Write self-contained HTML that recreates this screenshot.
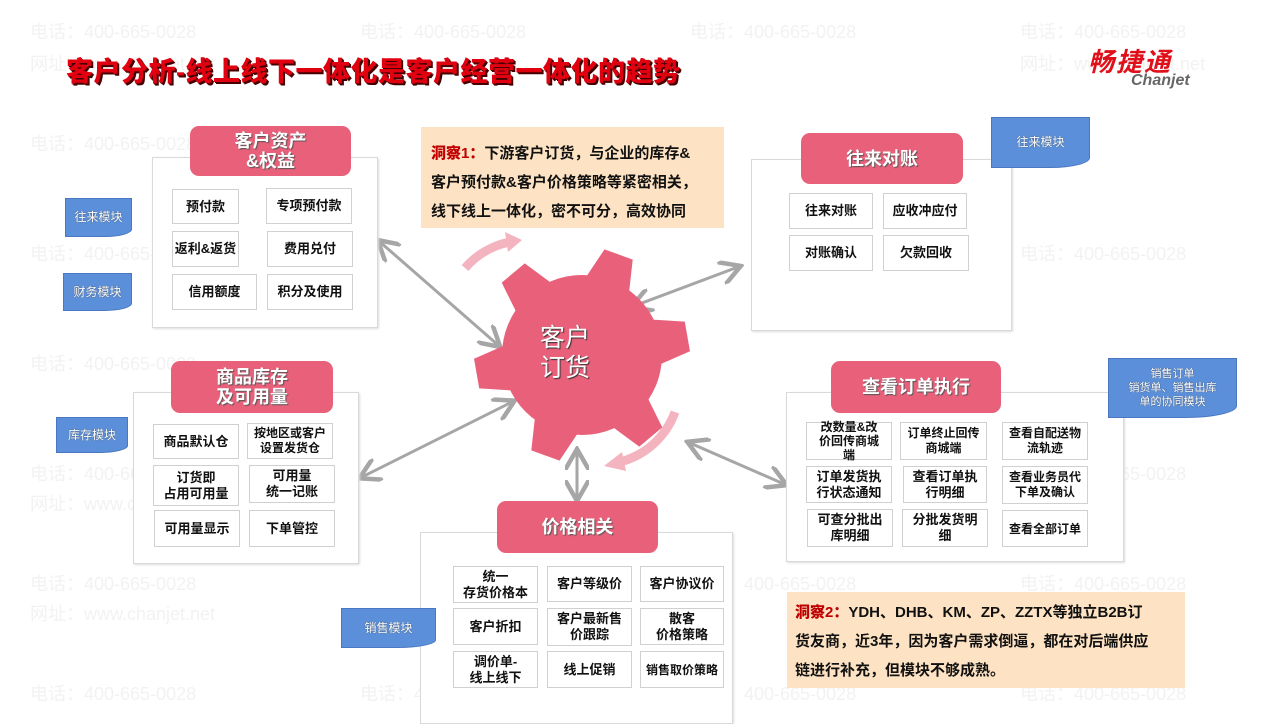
<!DOCTYPE html>
<html><head><meta charset="utf-8"><style>
*{margin:0;padding:0;box-sizing:border-box}
body{width:1280px;height:720px;position:relative;overflow:hidden;background:#fff;font-family:"Liberation Sans","Noto Sans CJK SC",sans-serif}
.a{position:absolute}
.wm{position:absolute;color:#f2f2f2;font-size:18px;white-space:nowrap}
.out{position:absolute;border:1px solid #d9d9d9;background:#fff;box-shadow:1px 1px 2px #ddd}
.hd{position:absolute;background:#e9607a;border-radius:9px;color:#fff;font-weight:bold;font-size:18px;line-height:20px;display:flex;align-items:center;justify-content:center;text-align:center;text-shadow:1px 1px 1px #555}
.c{position:absolute;border:1px solid #d0d0d0;background:#fff;display:flex;align-items:center;justify-content:center;text-align:center;font-size:13px;font-weight:bold;line-height:16px;color:#111}
.tag{position:absolute;background:#5b8fd9;color:#fff;font-size:12px;display:flex;align-items:center;justify-content:center;text-align:center;line-height:15px;border:1px solid #4a78c0;border-radius:0 0 40% 0/0 0 20% 0;text-shadow:0 0 1px #333}
.ins{position:absolute;background:#fde3c3;font-size:15px;font-weight:bold;color:#111;line-height:29px;white-space:nowrap}
.ins b{color:#c00000}
</style></head><body>
<div class="wm" style="left:30px;top:18px">电话：400-665-0028</div><div class="wm" style="left:360px;top:18px">电话：400-665-0028</div><div class="wm" style="left:690px;top:18px">电话：400-665-0028</div><div class="wm" style="left:1020px;top:18px">电话：400-665-0028</div>
<div class="wm" style="left:30px;top:50px">网址：www.chanjet.net</div><div class="wm" style="left:1020px;top:50px">网址：www.chanjet.net</div>
<div class="wm" style="left:30px;top:130px">电话：400-665-0028</div><div class="wm" style="left:30px;top:240px">电话：400-665-0028</div><div class="wm" style="left:30px;top:350px">电话：400-665-0028</div><div class="wm" style="left:30px;top:460px">电话：400-665-0028</div><div class="wm" style="left:30px;top:570px">电话：400-665-0028</div><div class="wm" style="left:30px;top:680px">电话：400-665-0028</div>
<div class="wm" style="left:30px;top:600px">网址：www.chanjet.net</div><div class="wm" style="left:30px;top:490px">网址：www.chanjet.net</div>
<div class="wm" style="left:1020px;top:240px">电话：400-665-0028</div><div class="wm" style="left:1020px;top:460px">电话：400-665-0028</div><div class="wm" style="left:1020px;top:570px">电话：400-665-0028</div><div class="wm" style="left:1020px;top:680px">电话：400-665-0028</div>
<div class="wm" style="left:690px;top:570px">电话：400-665-0028</div><div class="wm" style="left:690px;top:680px">电话：400-665-0028</div><div class="wm" style="left:360px;top:680px">电话：400-665-0028</div>

<div class="a" style="left:66px;top:50px;font-size:27px;font-weight:900;color:#e00010;text-shadow:1px 1px 0 #400,2px 2px 0 #400;letter-spacing:0.5px;white-space:nowrap">客户分析-线上线下一体化是客户经营一体化的趋势</div>
<div class="a" style="left:1088px;top:42px;font-size:26px;font-weight:bold;font-style:italic;color:#e0101a;letter-spacing:2px">畅捷通</div>
<div class="a" style="left:1131px;top:72px;font-size:16px;font-weight:bold;font-style:italic;color:#666">Chanjet</div>

<svg class="a" style="left:0;top:0" width="1280" height="720">
<defs><marker id="m" markerWidth="8" markerHeight="8" refX="6" refY="4" orient="auto-start-reverse"><path d="M0,0 L7,4 L0,8" fill="none" stroke="#a6a6a6" stroke-width="1.5"/></marker></defs>
<g stroke="#a6a6a6" stroke-width="3" fill="none" marker-start="url(#m)" marker-end="url(#m)">
<line x1="380" y1="242" x2="498" y2="345"/>
<line x1="634" y1="306" x2="738" y2="267"/>
<line x1="362" y1="477" x2="512" y2="402"/>
<line x1="577" y1="452" x2="577" y2="498"/>
<line x1="690" y1="443" x2="784" y2="484"/>
</g>
<path d="M465,268 A80,80 0 0 1 510,242" stroke="#f4b4bf" stroke-width="9" fill="none"/>
<path d="M505,232 L522,240 L508,252 Z" fill="#f4b4bf"/>
<path d="M675,412 A80,80 0 0 1 620,462" stroke="#f4b4bf" stroke-width="9" fill="none"/>
<path d="M622,452 L604,466 L626,471 Z" fill="#f4b4bf"/>
<g fill="#e9607a" transform="translate(582,355)">
<circle r="80"/>
<g transform="rotate(20)"><path id="t" d="M-24,-70 L-15,-107 L15,-107 L24,-70 Z"/></g>
<use href="#t" transform="rotate(80)"/><use href="#t" transform="rotate(140)"/><use href="#t" transform="rotate(200)"/><use href="#t" transform="rotate(260)"/><use href="#t" transform="rotate(320)"/>
</g>
</svg>
<div class="a" style="left:540px;top:323px;color:#fff;font-size:25px;line-height:30px;text-shadow:1px 1px 1px #333">客户<br>订货</div>

<div class="ins" style="left:421px;top:127px;width:303px;height:101px;padding:12px 0 0 10px"><b>洞察1：</b>下游客户订货，与企业的库存&amp;<br>客户预付款&amp;客户价格策略等紧密相关，<br>线下线上一体化，密不可分，高效协同</div>
<div class="ins" style="left:787px;top:592px;width:398px;height:96px;padding:6px 0 0 8px;line-height:29px"><b>洞察2：</b>YDH、DHB、KM、ZP、ZZTX等独立B2B订<br>货友商，近3年，因为客户需求倒逼，都在对后端供应<br>链进行补充，但模块不够成熟。</div>

<div class="out" style="left:152px;top:157px;width:226px;height:171px"></div>
<div class="hd" style="left:190px;top:126px;width:161px;height:50px">客户资产<br>&amp;权益</div>
<div class="c" style="left:172px;top:189px;width:67px;height:35px">预付款</div>
<div class="c" style="left:266px;top:188px;width:86px;height:36px">专项预付款</div>
<div class="c" style="left:172px;top:231px;width:67px;height:36px">返利&amp;返货</div>
<div class="c" style="left:267px;top:231px;width:86px;height:36px">费用兑付</div>
<div class="c" style="left:172px;top:274px;width:85px;height:36px">信用额度</div>
<div class="c" style="left:267px;top:274px;width:86px;height:36px">积分及使用</div>
<div class="tag" style="left:65px;top:198px;width:67px;height:39px">往来模块</div>
<div class="tag" style="left:63px;top:273px;width:69px;height:38px">财务模块</div>

<div class="out" style="left:751px;top:159px;width:261px;height:172px"></div>
<div class="hd" style="left:801px;top:133px;width:162px;height:51px">往来对账</div>
<div class="c" style="left:789px;top:193px;width:84px;height:36px">往来对账</div>
<div class="c" style="left:883px;top:193px;width:84px;height:36px">应收冲应付</div>
<div class="c" style="left:789px;top:235px;width:84px;height:36px">对账确认</div>
<div class="c" style="left:883px;top:235px;width:86px;height:36px">欠款回收</div>
<div class="tag" style="left:991px;top:117px;width:99px;height:51px">往来模块</div>

<div class="out" style="left:133px;top:392px;width:226px;height:172px"></div>
<div class="hd" style="left:171px;top:361px;width:162px;height:52px">商品库存<br>及可用量</div>
<div class="c" style="left:153px;top:424px;width:86px;height:35px">商品默认仓</div>
<div class="c" style="left:247px;top:423px;width:86px;height:36px;font-size:12px;line-height:15px">按地区或客户<br>设置发货仓</div>
<div class="c" style="left:153px;top:465px;width:86px;height:41px">订货即<br>占用可用量</div>
<div class="c" style="left:249px;top:465px;width:86px;height:38px">可用量<br>统一记账</div>
<div class="c" style="left:154px;top:510px;width:86px;height:37px">可用量显示</div>
<div class="c" style="left:249px;top:510px;width:86px;height:37px">下单管控</div>
<div class="tag" style="left:56px;top:417px;width:72px;height:36px">库存模块</div>

<div class="out" style="left:786px;top:392px;width:338px;height:170px"></div>
<div class="hd" style="left:831px;top:361px;width:170px;height:52px">查看订单执行</div>
<div class="c" style="left:806px;top:422px;width:86px;height:38px;font-size:12px;line-height:14px">改数量&amp;改<br>价回传商城<br>端</div>
<div class="c" style="left:900px;top:422px;width:87px;height:38px;font-size:12px;line-height:15px">订单终止回传<br>商城端</div>
<div class="c" style="left:1002px;top:422px;width:86px;height:38px;font-size:12px;line-height:15px">查看自配送物<br>流轨迹</div>
<div class="c" style="left:806px;top:466px;width:86px;height:37px">订单发货执<br>行状态通知</div>
<div class="c" style="left:903px;top:466px;width:84px;height:37px">查看订单执<br>行明细</div>
<div class="c" style="left:1002px;top:466px;width:86px;height:38px;font-size:12px;line-height:15px">查看业务员代<br>下单及确认</div>
<div class="c" style="left:807px;top:509px;width:86px;height:38px">可查分批出<br>库明细</div>
<div class="c" style="left:902px;top:509px;width:86px;height:38px">分批发货明<br>细</div>
<div class="c" style="left:1002px;top:510px;width:86px;height:37px;font-size:12px">查看全部订单</div>
<div class="tag" style="left:1108px;top:358px;width:129px;height:60px;font-size:11px;line-height:14px">销售订单<br>销货单、销售出库<br>单的协同模块</div>

<div class="out" style="left:420px;top:532px;width:313px;height:192px"></div>
<div class="hd" style="left:497px;top:501px;width:161px;height:52px">价格相关</div>
<div class="c" style="left:453px;top:566px;width:85px;height:37px">统一<br>存货价格本</div>
<div class="c" style="left:547px;top:566px;width:85px;height:36px">客户等级价</div>
<div class="c" style="left:640px;top:566px;width:84px;height:36px">客户协议价</div>
<div class="c" style="left:453px;top:608px;width:85px;height:37px">客户折扣</div>
<div class="c" style="left:547px;top:608px;width:85px;height:38px">客户最新售<br>价跟踪</div>
<div class="c" style="left:640px;top:608px;width:84px;height:37px">散客<br>价格策略</div>
<div class="c" style="left:453px;top:651px;width:85px;height:37px">调价单-<br>线上线下</div>
<div class="c" style="left:547px;top:651px;width:85px;height:37px">线上促销</div>
<div class="c" style="left:640px;top:651px;width:84px;height:37px;font-size:12px">销售取价策略</div>
<div class="tag" style="left:341px;top:608px;width:95px;height:40px">销售模块</div>
</body></html>
